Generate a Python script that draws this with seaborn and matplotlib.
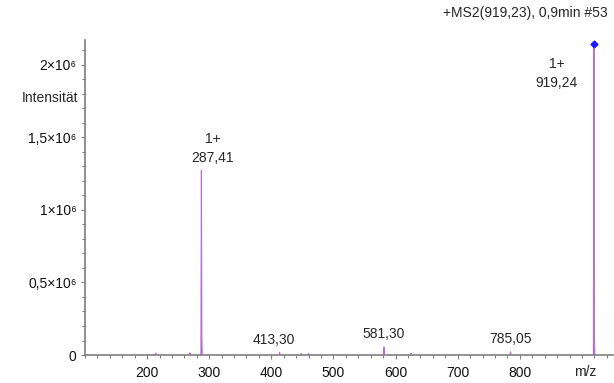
import matplotlib
matplotlib.use("Agg")
import matplotlib.pyplot as plt
import seaborn as sns
import pandas as pd
import numpy as np
from matplotlib.ticker import FixedLocator, FixedFormatter, MultipleLocator

# ---- data ----
peak_mz = [214, 269, 287.41, 413.30, 448, 460, 581.30, 625, 785.05, 919.24]
peak_int = [0.012e6, 0.015e6, 1.27e6, 0.018e6, 0.010e6, 0.012e6, 0.055e6, 0.012e6, 0.022e6, 2.14e6]

labels_mz = [287.41, 413.30, 581.30, 785.05, 919.24]
labels_txt = ["1+\n287,41", "413,30", "581,30", "785,05", "1+\n919,24"]

ytick_vals = [0, 0.5e6, 1e6, 1.5e6, 2e6]
ytick_txt = ["0", "0,5×10⁶", "1×10⁶", "1,5×10⁶", "2×10⁶"]
xtick_vals = [200, 300, 400, 500, 600, 700, 800]
xtick_txt = ["200", "300", "400", "500", "600", "700", "800"]

title_txt = "+MS2(919,23), 0,9min #53"
ylabel_txt = "Intensität"
xlabel_txt = "m/z"

sns.set_theme(style="white")
plt.rcParams["font.family"] = ["Liberation Sans", "DejaVu Sans"]
plt.rcParams["font.size"] = 10

fig = plt.figure(figsize=(6.14, 3.83), dpi=100)
ax = fig.add_axes([0.1384, 0.073, 0.86, 0.8227])

# build stick profiles from peak arrays
rows = []
for i, (m, h) in enumerate(zip(peak_mz, peak_int)):
    for dx, f in [(-0.8, 0.0), (0.0, 1.0), (0.8, 0.0)]:
        rows.append({"mz": m + dx, "I": h * f, "pk": i})
df = pd.DataFrame(rows)

# light wide base for the big peaks
base_rows = []
for i, (m, h) in enumerate(zip(peak_mz, peak_int)):
    if h > 1e6:
        for dx, f in [(-2.2, 0.0), (0.0, 0.1), (2.2, 0.0)]:
            base_rows.append({"mz": m + dx, "I": h * f, "pk": i})
dfb = pd.DataFrame(base_rows)
for pk, g in dfb.groupby("pk"):
    ax.fill_between(g["mz"], 0, g["I"], color="#dcaee6", lw=0)

sns.lineplot(data=df, x="mz", y="I", units="pk", estimator=None, sort=False,
             color="#b56fcc", lw=0.8, ax=ax, legend=False)

# marker on the precursor
ax.plot([peak_mz[-1]], [peak_int[-1]], marker="D", ms=3.5, color="#1a1aff", mec="#1a1aff")

ax.set_xlim(100, 950)
ax.set_ylim(0, 2.17e6)

ax.yaxis.set_major_locator(FixedLocator(ytick_vals))
ax.yaxis.set_major_formatter(FixedFormatter(ytick_txt))
ax.yaxis.set_minor_locator(MultipleLocator(0.1e6))
ax.xaxis.set_major_locator(FixedLocator(xtick_vals))
ax.xaxis.set_major_formatter(FixedFormatter(xtick_txt))
ax.xaxis.set_minor_locator(MultipleLocator(20))

ax.tick_params(axis="both", which="major", direction="out", length=3, width=0.8,
               color="#7f7f7f", labelsize=10, labelcolor="#111111", pad=3,
               bottom=True, left=True)
ax.tick_params(axis="both", which="minor", direction="out", length=2, width=0.8,
               color="#7f7f7f", bottom=True, left=True)
ax.tick_params(axis="x", which="major", pad=5)

for s in ["top", "right"]:
    ax.spines[s].set_visible(False)
for s in ["left", "bottom"]:
    ax.spines[s].set_color("#7f7f7f")
    ax.spines[s].set_linewidth(1.2)

ax.set_xlabel("")
ax.set_ylabel("")

# peak annotations
offsets = {287.41: 8, 413.30: -4, 581.30: 0, 785.05: 0, 919.24: -27}
for m, t in zip(labels_mz, labels_txt):
    h = peak_int[peak_mz.index(m)]
    dx = offsets[m]
    if m == 919.24:
        ax.annotate(t, (m, h), xytext=(dx, -9), textcoords="offset points",
                    ha="center", va="top", fontsize=10, linespacing=1.45)
    elif h > 1e6:
        ax.annotate(t, (m, h), xytext=(dx, 4), textcoords="offset points",
                    ha="center", va="bottom", fontsize=10, linespacing=1.45)
    else:
        ax.annotate(t, (m, h), xytext=(dx, 4), textcoords="offset points",
                    ha="center", va="bottom", fontsize=10)

ax.text(905, -0.032, xlabel_txt, transform=ax.get_xaxis_transform(), ha="center", va="top", fontsize=10)
ax.text(-0.013, 1.77e6, ylabel_txt, transform=ax.get_yaxis_transform(), ha="right", va="center", fontsize=10)
fig.text(0.99, 0.965, title_txt, ha="right", va="center", fontsize=10)

fig.savefig("out.png", dpi=100)
